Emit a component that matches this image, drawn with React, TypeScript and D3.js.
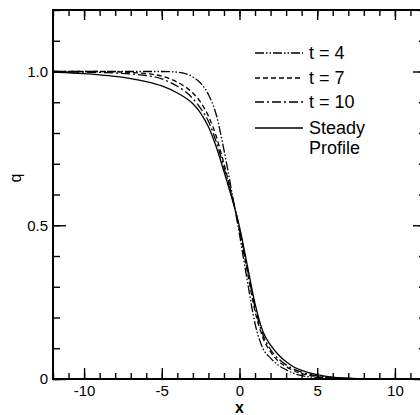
import React, { useEffect, useRef } from 'react';
import * as d3 from 'd3';

// x positions shared by all profiles
const xs = [-12, -11, -10, -9, -8, -7, -6, -5, -4, -3, -2.5, -2, -1.5, -1, -0.5, 0, 0.5, 1, 1.5, 2, 2.5, 3, 3.5, 4, 5, 6, 7, 8];
const qT4 = [1, 1, 1, 1, 1, 1, 1, 1, 0.998, 0.982, 0.962, 0.925, 0.86, 0.745, 0.61, 0.47, 0.32, 0.18, 0.1, 0.068, 0.045, 0.03, 0.018, 0.011, 0.005, 0.002, 0.001, 0];
const qT7 = [1, 1, 1, 1, 0.999, 0.997, 0.993, 0.985, 0.965, 0.93, 0.9, 0.855, 0.79, 0.7, 0.6, 0.485, 0.35, 0.22, 0.135, 0.088, 0.058, 0.04, 0.027, 0.018, 0.008, 0.003, 0.001, 0];
const qT10 = [1, 0.999, 0.998, 0.997, 0.995, 0.992, 0.987, 0.976, 0.952, 0.912, 0.88, 0.838, 0.772, 0.688, 0.595, 0.49, 0.36, 0.232, 0.145, 0.096, 0.066, 0.046, 0.032, 0.022, 0.01, 0.004, 0.002, 0.001];
const qSteady = [0.998, 0.996, 0.993, 0.989, 0.984, 0.977, 0.967, 0.953, 0.93, 0.895, 0.865, 0.82, 0.755, 0.675, 0.59, 0.495, 0.37, 0.245, 0.155, 0.11, 0.079, 0.056, 0.039, 0.028, 0.014, 0.006, 0.003, 0.001];

const seriesNames = ['t = 4', 't = 7', 't = 10', 'Steady'];
const xMajor = [-10, -5, 0, 5, 10];
const yMajor = [0, 0.5, 1.0];
const yLabels = ['0', '0.5', '1.0'];

const dashes = ['9,2,1.5,2,1.5,2', '5,3', '9,3,2,3', null];

const W = 420;
const H = 415;
const left = 53;
const right = 426;
const top = 10;
const bottom = 379;
const font = '"Liberation Sans", Arial, sans-serif';

export default function App() {
  const ref = useRef<SVGSVGElement>(null);

  useEffect(() => {
    const svg = d3.select(ref.current);
    svg.selectAll('*').remove();

    const x = d3.scaleLinear().domain([-12, 12]).range([left, right]);
    const y = d3.scaleLinear().domain([0, 1.2]).range([bottom, top]);

    const style = (g: any) => {
      g.select('.domain').remove();
      g.selectAll('line').attr('stroke', '#000').attr('stroke-width', 1.4);
      g.selectAll('text').attr('font-family', font).attr('font-size', 15).attr('fill', '#000');
    };

    const minorX = d3.range(-12, 13, 1);
    const minorY = d3.range(0, 1.21, 0.1);

    // bottom
    svg.append('g').attr('transform', `translate(0,${bottom})`)
      .call(d3.axisBottom(x).tickValues(minorX).tickSize(-6).tickFormat(() => '')).call(style);
    svg.append('g').attr('transform', `translate(0,${bottom})`)
      .call(d3.axisBottom(x).tickValues(xMajor).tickSize(-11).tickPadding(6).tickFormat((d: any) => String(d))).call(style);
    // top
    svg.append('g').attr('transform', `translate(0,${top})`)
      .call(d3.axisTop(x).tickValues(minorX).tickSize(-6).tickFormat(() => '')).call(style);
    svg.append('g').attr('transform', `translate(0,${top})`)
      .call(d3.axisTop(x).tickValues(xMajor).tickSize(-10).tickFormat(() => '')).call(style);
    // left
    svg.append('g').attr('transform', `translate(${left},0)`)
      .call(d3.axisLeft(y).tickValues(minorY).tickSize(-7).tickFormat(() => '')).call(style);
    svg.append('g').attr('transform', `translate(${left},0)`)
      .call(d3.axisLeft(y).tickValues(yMajor).tickSize(-13).tickPadding(5).tickFormat((d, i) => yLabels[i])).call(style);
    // right
    svg.append('g').attr('transform', `translate(${right},0)`)
      .call(d3.axisRight(y).tickValues(minorY).tickSize(-7).tickFormat(() => '')).call(style);
    svg.append('g').attr('transform', `translate(${right},0)`)
      .call(d3.axisRight(y).tickValues(yMajor).tickSize(-13).tickFormat(() => '')).call(style);

    svg.append('rect')
      .attr('x', left).attr('y', top)
      .attr('width', right - left).attr('height', bottom - top)
      .attr('fill', 'none').attr('stroke', '#000').attr('stroke-width', 2);

    const all = [qT4, qT7, qT10, qSteady];
    const line = d3.line<number>()
      .x((d, i) => x(xs[i]))
      .y((d) => y(d))
      .curve(d3.curveMonotoneX);

    all.forEach((vals, k) => {
      const p = svg.append('path')
        .attr('d', line(vals))
        .attr('fill', 'none')
        .attr('stroke', '#000')
        .attr('stroke-width', 1.3);
      if (dashes[k]) p.attr('stroke-dasharray', dashes[k]);
    });

    // legend
    const lg = svg.append('g').attr('font-family', font).attr('font-size', 18);
    const rowY = [53, 78, 102, 128];
    seriesNames.forEach((name, k) => {
      const l = lg.append('line')
        .attr('x1', 255).attr('x2', 303)
        .attr('y1', rowY[k]).attr('y2', rowY[k])
        .attr('stroke', '#000').attr('stroke-width', 1.3);
      if (dashes[k]) l.attr('stroke-dasharray', dashes[k]);
      lg.append('text').attr('x', 309).attr('y', rowY[k]).attr('dy', '0.35em').text(name);
    });
    lg.append('text').attr('x', 309).attr('y', 148).attr('dy', '0.35em').text('Profile');

    // axis titles
    svg.append('text')
      .attr('x', x(0)).attr('y', 413)
      .attr('text-anchor', 'middle')
      .attr('font-family', font).attr('font-size', 16).attr('font-weight', 'bold')
      .text('x');
    svg.append('text')
      .attr('transform', 'translate(21,178) rotate(-90)')
      .attr('text-anchor', 'middle')
      .attr('font-family', font).attr('font-size', 16)
      .text('q');
  }, []);

  return (
    <svg
      ref={ref}
      width={W}
      height={H}
      style={{ position: 'absolute', left: 0, top: 0, background: '#fff' }}
    />
  );
}
